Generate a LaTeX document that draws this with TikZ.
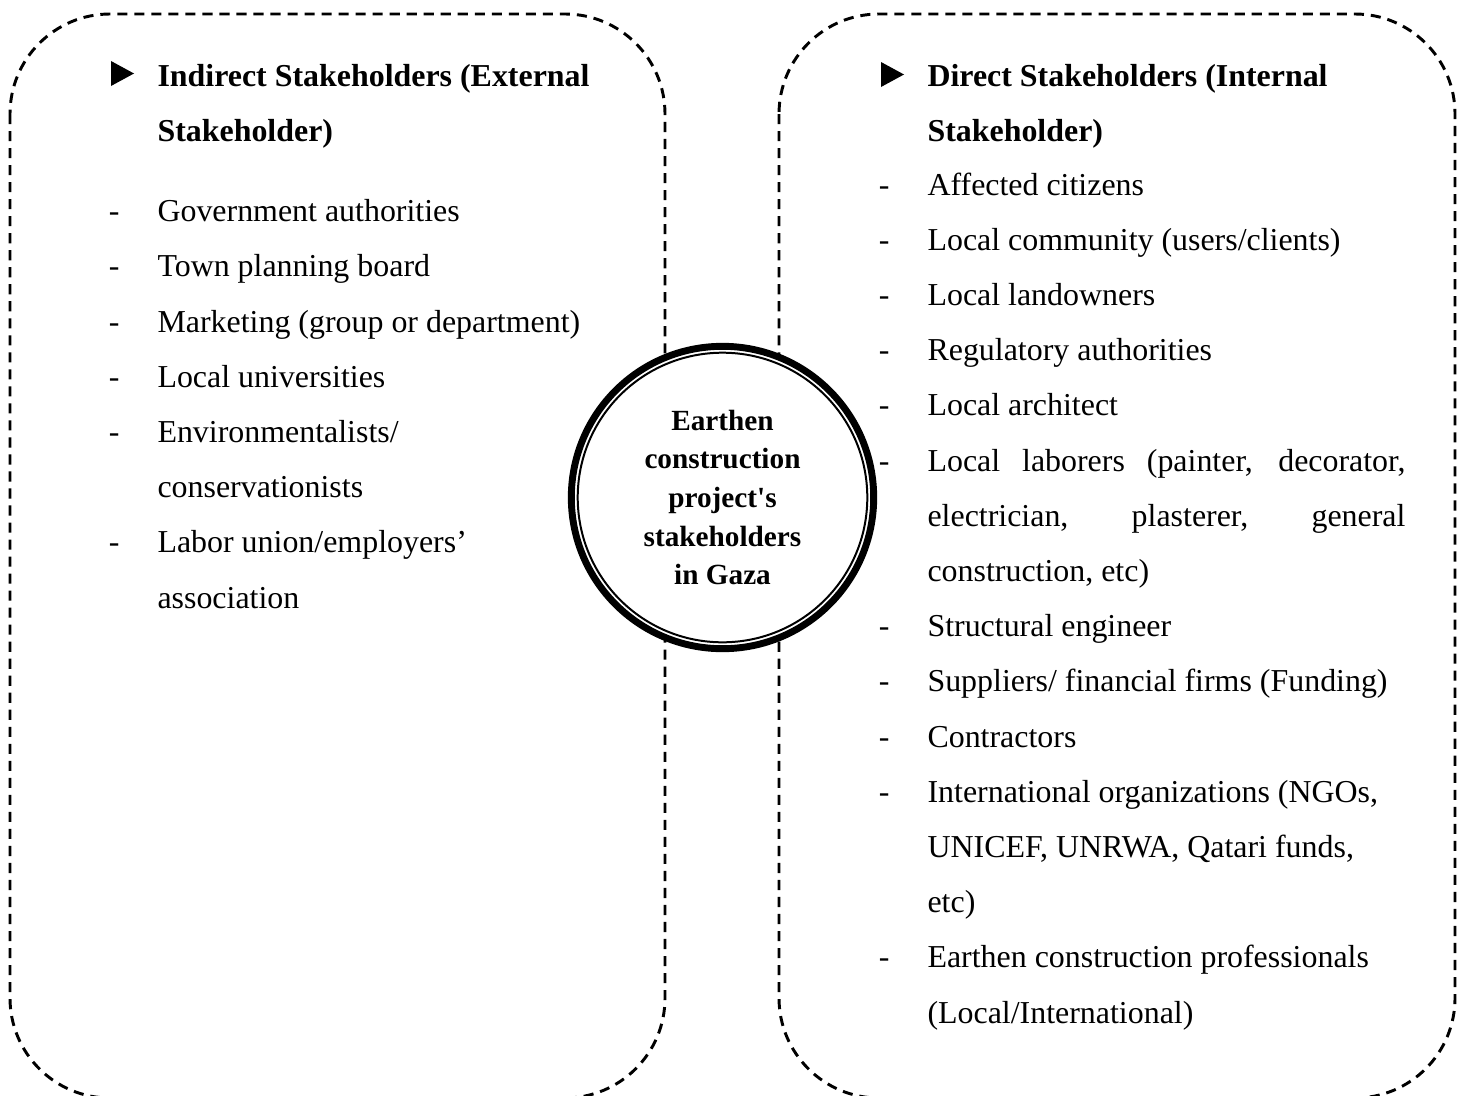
\documentclass[tikz,border=0pt]{standalone}
\usepackage{fontspec}
\setmainfont{Liberation Serif}
\usetikzlibrary{positioning}

\newcommand{\fullline}[1]{\makebox[179.7pt][s]{#1}}

\tikzset{
  panel/.style={draw, line width=1.1pt, dash pattern=on 3.8pt off 2.6pt, rounded corners=37.6pt},
  entry/.style={anchor=base west, inner sep=0pt, font=\fontsize{12}{14}\selectfont},
  head/.style={entry, font=\fontsize{12}{14}\selectfont\bfseries},
  hyph/.style={inner sep=0pt, font=\fontsize{12}{14}\selectfont},
  hub/.style={circle, draw, fill=white, line width=2.6pt, minimum size=113.7pt, inner sep=0pt,
    align=center, font=\fontsize{11}{14.5}\selectfont\bfseries}
}

\begin{document}
\begin{tikzpicture}[x=0.376pt,y=-0.376pt]
\useasboundingbox (0,0) rectangle (1465,1095);

% the two groups
\draw [panel] (10,14) rectangle (665,1098);
\draw [panel] (779,14) rectangle (1455,1098);

% headings
\fill (111,61) -- (134,73.5) -- (111,86) -- cycle;
\node (ext-h1) [head] at (157,86.5) {Indirect Stakeholders (External};
\node (ext-h2) [head] at (157,141.5) {Stakeholder)};

\fill (881,62) -- (904,74.5) -- (881,87) -- cycle;
\node (int-h1) [head] at (927,86.5) {Direct Stakeholders (Internal};
\node (int-h2) [head] at (927,141.5) {Stakeholder)};

% external list
\foreach \n/\txt in {1/{Government authorities}, 2/{Town planning board},
    3/{Marketing (group or department)}, 4/{Local universities},
    5/{Environmentalists/}, 6/{conservationists},
    7/{Labor union/employers’}, 8/{association}}
  \node (ext-\n) [entry] at (157,{221.7+55.2*(\n-1)}) {\txt};
\foreach \n in {1,2,3,4,5,7}
  \node (ext-d\n) [hyph, base left=13.9pt of ext-\n] {-};

% internal list
\foreach \n/\txt in {1/{Affected citizens}, 2/{Local community (users/clients)},
    3/{Local landowners}, 4/{Regulatory authorities}, 5/{Local architect},
    6/{\fullline{Local laborers (painter, decorator,}},
    7/{\fullline{electrician, plasterer, general}},
    8/{construction, etc)}, 9/{Structural engineer},
    10/{Suppliers/ financial firms (Funding)}, 11/{Contractors},
    12/{International organizations (NGOs,}, 13/{UNICEF, UNRWA, Qatari funds,},
    14/{etc)}, 15/{Earthen construction professionals}, 16/{(Local/International)}}
  \node (int-\n) [entry] at (927,{195+55.2*(\n-1)}) {\txt};
\foreach \n in {1,2,3,4,5,6,9,10,11,12,15}
  \node (int-d\n) [hyph, base left=13.9pt of int-\n] {-};

% centre
\node (hub) [hub] at (722.5,497.5) {Earthen\\construction\\project\textquotesingle s\\stakeholders\\in Gaza};
\draw [line width=0.75pt] (hub.center) circle [radius=144.8];

\end{tikzpicture}
\end{document}
